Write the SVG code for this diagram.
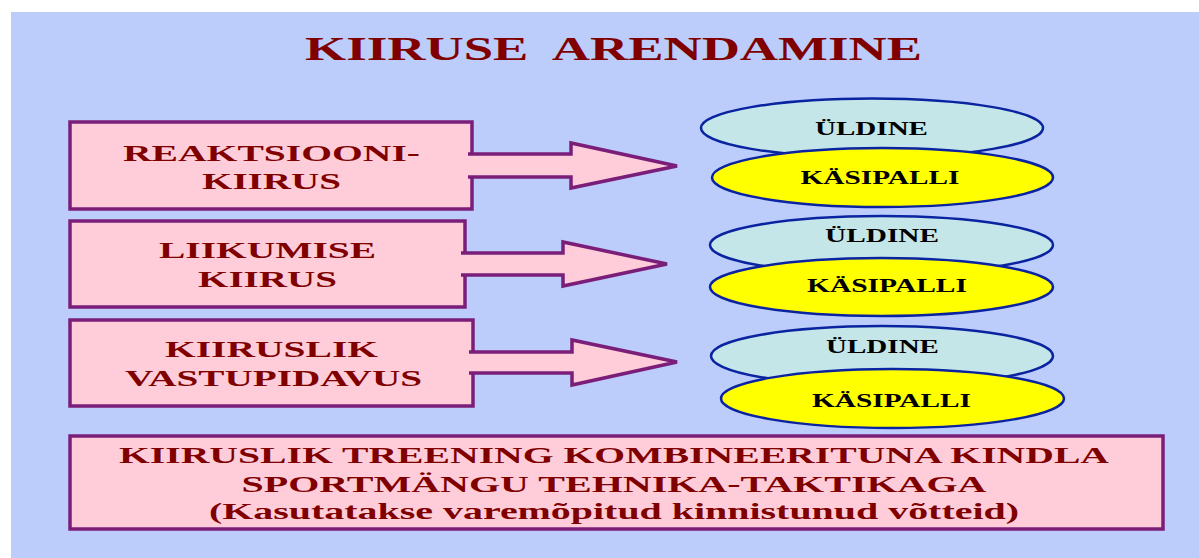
<svg xmlns="http://www.w3.org/2000/svg" width="1199" height="558" viewBox="0 0 1199 558">
  <style>
    .bg { fill: #bccdfb; }
    .box { fill: #ffcdd9; stroke: #7b1e7a; stroke-width: 3.5; stroke-linejoin: miter; }
    .arrow { fill: #ffcdd9; stroke: #7b1e7a; stroke-width: 3.5; stroke-linejoin: miter; }
    .gen { fill: #c4e6e8; stroke: #0a23a0; stroke-width: 2.5; }
    .hb { fill: #ffff00; stroke: #0a23a0; stroke-width: 2.5; }
    .t { font-family: "Liberation Serif", "Times New Roman", serif; font-weight: bold; text-anchor: middle; }
    .title { fill: #800000; font-size: 33px; }
    .lbl { fill: #800000; font-size: 24px; }
    .note { fill: #800000; font-size: 23.5px; }
    .ell { fill: #000000; font-size: 18px; }
  </style>

  <rect class="bg" x="11" y="12" width="1188" height="546"/>

  <text class="t title" x="613.5" y="60" textLength="617" lengthAdjust="spacingAndGlyphs" xml:space="preserve">KIIRUSE  ARENDAMINE</text>

  <!-- speed categories -->
  <g id="reaction">
    <rect class="box" x="70" y="122" width="402" height="87"/>
    <text class="t lbl" x="271.5" y="161" textLength="297" lengthAdjust="spacingAndGlyphs">REAKTSIOONI-</text>
    <text class="t lbl" x="271.5" y="189" textLength="139" lengthAdjust="spacingAndGlyphs">KIIRUS</text>
  </g>
  <g id="movement">
    <rect class="box" x="70" y="221" width="395" height="86"/>
    <text class="t lbl" x="267.5" y="258" textLength="217" lengthAdjust="spacingAndGlyphs">LIIKUMISE</text>
    <text class="t lbl" x="267.5" y="287" textLength="139" lengthAdjust="spacingAndGlyphs">KIIRUS</text>
  </g>
  <g id="endurance">
    <rect class="box" x="70" y="320" width="403" height="86"/>
    <text class="t lbl" x="271.5" y="357" textLength="213" lengthAdjust="spacingAndGlyphs">KIIRUSLIK</text>
    <text class="t lbl" x="273.5" y="386" textLength="297" lengthAdjust="spacingAndGlyphs">VASTUPIDAVUS</text>
  </g>

  <!-- general / handball pairs -->
  <g id="pair1">
    <ellipse class="gen" cx="872" cy="128" rx="171" ry="29.5"/>
    <text class="t ell" x="871.5" y="135" textLength="113" lengthAdjust="spacingAndGlyphs">ÜLDINE</text>
    <ellipse class="hb" cx="882.5" cy="177.5" rx="170.5" ry="29.5"/>
    <text class="t ell" x="880" y="184" textLength="159" lengthAdjust="spacingAndGlyphs">KÄSIPALLI</text>
  </g>
  <g id="pair2">
    <ellipse class="gen" cx="881.5" cy="245" rx="171.5" ry="29"/>
    <text class="t ell" x="882" y="242" textLength="114" lengthAdjust="spacingAndGlyphs">ÜLDINE</text>
    <ellipse class="hb" cx="881.5" cy="287" rx="171.5" ry="29"/>
    <text class="t ell" x="887" y="292" textLength="160" lengthAdjust="spacingAndGlyphs">KÄSIPALLI</text>
  </g>
  <g id="pair3">
    <ellipse class="gen" cx="882" cy="356" rx="171" ry="30"/>
    <text class="t ell" x="882.5" y="353" textLength="113" lengthAdjust="spacingAndGlyphs">ÜLDINE</text>
    <ellipse class="hb" cx="892.5" cy="398.5" rx="171.5" ry="29.5"/>
    <text class="t ell" x="891.5" y="407" textLength="159" lengthAdjust="spacingAndGlyphs">KÄSIPALLI</text>
  </g>

  <g id="summary">
    <rect class="box" x="70" y="436" width="1093" height="93"/>
    <text class="t note" x="614" y="463" textLength="990" lengthAdjust="spacingAndGlyphs">KIIRUSLIK TREENING KOMBINEERITUNA KINDLA</text>
    <text class="t note" x="614" y="492" textLength="745" lengthAdjust="spacingAndGlyphs">SPORTMÄNGU TEHNIKA-TAKTIKAGA</text>
    <text class="t note" x="614" y="519" textLength="810" lengthAdjust="spacingAndGlyphs">(Kasutatakse varemõpitud kinnistunud võtteid)</text>
  </g>

  <!-- block arrows leaving each box; open at the box side so the fill merges with it -->
  <g id="connectors">
    <path class="arrow" d="M468,154 H571 V143 L677,166 L571,188 V177 H468"/>
    <path class="arrow" d="M461,253 H563 V242 L667,264 L563,286 V275 H461"/>
    <path class="arrow" d="M469,352 H572 V340 L677,362 L572,385 V373 H469"/>
  </g>
</svg>
